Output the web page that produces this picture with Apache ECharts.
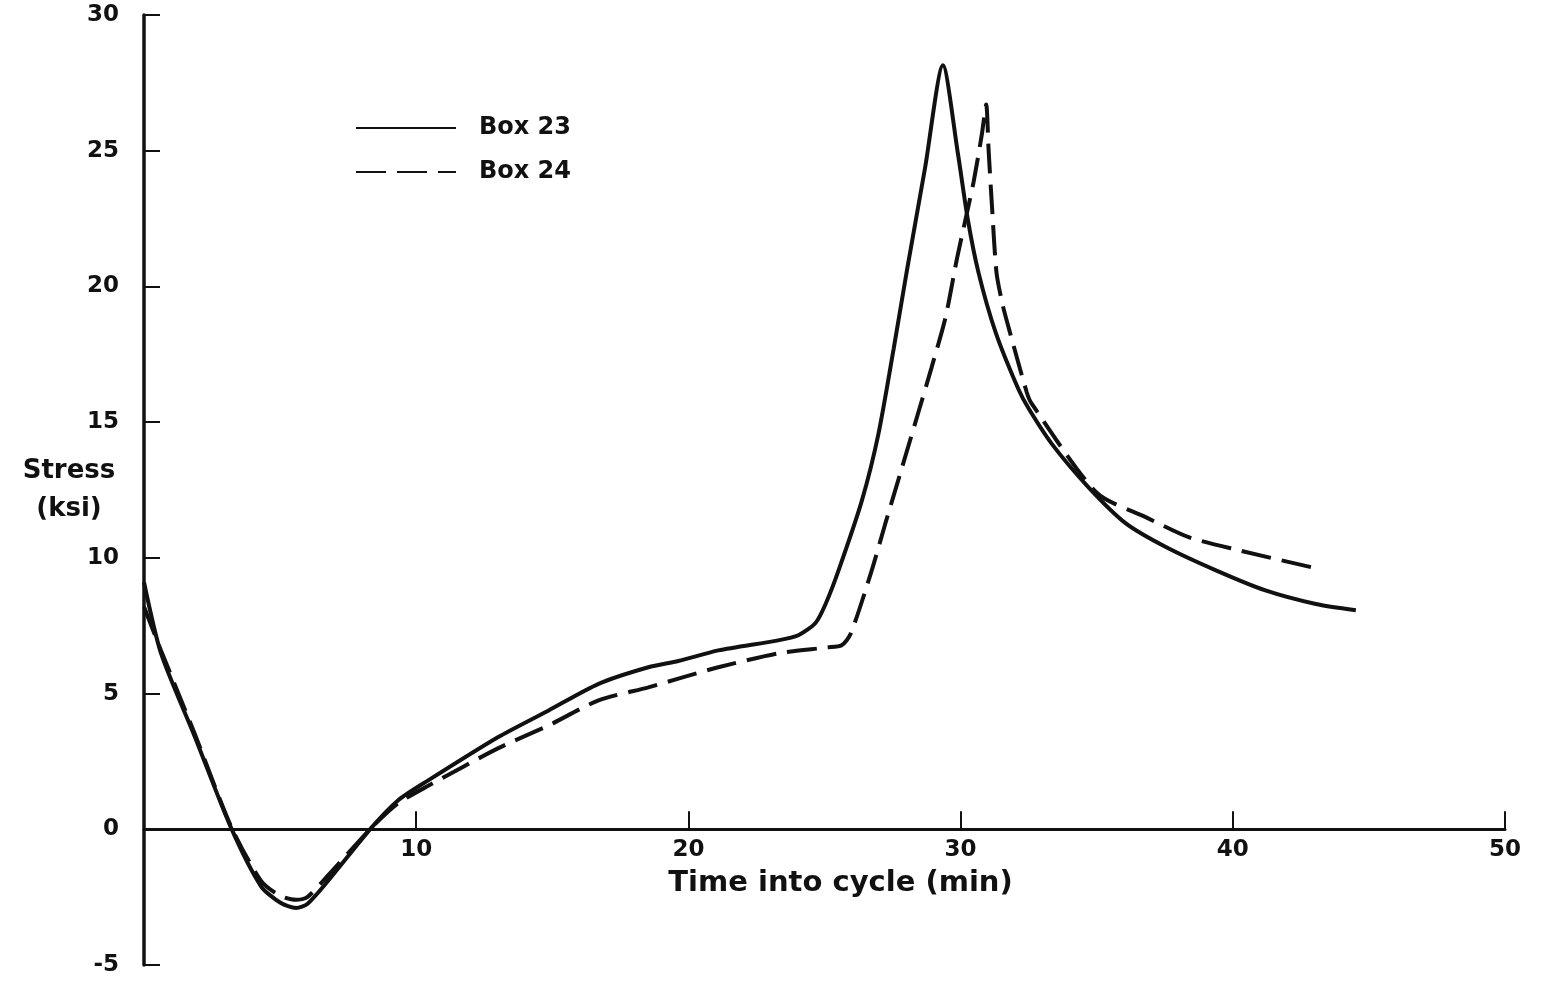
<!DOCTYPE html>
<html>
<head>
<meta charset="utf-8">
<script src="https://cdn.jsdelivr.net/npm/echarts@6/dist/echarts.min.js"></script>
<style>
html,body{margin:0;padding:0;background:#fff;}
#chart{width:1543px;height:985px;}
</style>
</head>
<body>
<div id="chart"></div>
<script>
// Box 23 (solid)
const box23Time = [0, 0.62, 1.87, 3.2, 4.3, 5.0, 5.59, 6.0, 6.76, 8.35, 9.34, 10.44, 13.0, 14.85, 16.7, 18.53, 19.63, 21.1, 23.3, 24.04, 24.67, 25.04, 25.51, 26.37, 26.98, 27.54, 28.03, 28.7, 29.35, 29.9, 30.26, 30.66, 31.29, 32.13, 32.5, 33.35, 34.7, 36.07, 37.54, 39.38, 41.2, 43.05, 44.52];
const box23Stress = [9.1, 6.5, 3.4, 0.05, -2.1, -2.7, -2.9, -2.75, -1.9, 0.05, 1.07, 1.8, 3.39, 4.37, 5.36, 5.97, 6.2, 6.59, 6.96, 7.15, 7.6, 8.3, 9.52, 12.1, 14.56, 17.7, 20.6, 24.4, 28.15, 24.9, 22.5, 20.5, 18.3, 16.2, 15.5, 14.2, 12.6, 11.27, 10.4, 9.54, 8.8, 8.3, 8.07];
// Box 24 (dashed)
const box24Time = [0, 0.62, 1.87, 3.2, 4.3, 5.0, 5.59, 6.0, 6.76, 8.35, 9.34, 10.44, 13.0, 14.85, 16.7, 18.53, 19.63, 21.1, 23.3, 25.1, 25.63, 25.96, 26.73, 27.23, 27.84, 28.46, 28.93, 29.44, 29.87, 30.22, 30.48, 30.78, 30.94, 31.03, 31.15, 31.32, 31.55, 31.76, 32.43, 32.6, 35.0, 36.8, 38.38, 40.22, 42.9];
const box24Stress = [8.2, 6.6, 3.5, 0.1, -1.9, -2.45, -2.6, -2.5, -1.7, 0.05, 0.96, 1.6, 2.98, 3.82, 4.75, 5.23, 5.55, 5.97, 6.48, 6.7, 6.78, 7.2, 9.52, 11.25, 13.3, 15.4, 17.0, 18.83, 21.04, 22.65, 23.86, 25.6, 26.7, 25.0, 23.0, 20.5, 19.3, 18.5, 16.1, 15.7, 12.4, 11.5, 10.76, 10.28, 9.65];
const xTicks = [0, 10, 20, 30, 40, 50];
const yTicks = [-5, 0, 5, 10, 15, 20, 25, 30];

const pairs = (xs, ys) => xs.map((x, i) => [x, ys[i]]);
const FONT = '"DejaVu Sans", sans-serif';
const INK = '#111';

const W = 1543, H = 985;
const G = { left: 144, right: 38, top: 15, bottom: 20 };
const yMin = yTicks[0], yMax = yTicks[yTicks.length - 1];
const plotH = H - G.top - G.bottom;
const zeroOffset = -((0 - yMin) / (yMax - yMin)) * plotH;

const chart = echarts.init(document.getElementById('chart'));
chart.setOption({
  animation: false,
  backgroundColor: '#fff',
  grid: Object.assign({ containLabel: false, outerBoundsMode: 'none' }, G),
  legend: {
    orient: 'vertical',
    left: 355, top: 116, padding: 0,
    itemWidth: 100, itemHeight: 20, itemGap: 20,
    itemStyle: { opacity: 0 },
    textStyle: { fontFamily: FONT, fontSize: 24, fontWeight: 'bold', color: INK, lineHeight: 20, padding: [0, 0, 0, 18] },
    data: ['Box 23', 'Box 24']
  },
  xAxis: {
    type: 'value',
    min: xTicks[0], max: xTicks[xTicks.length - 1], interval: 10,
    offset: zeroOffset,
    name: 'Time into cycle (min)',
    nameLocation: 'middle', nameGap: 40,
    nameTextStyle: { fontFamily: FONT, fontSize: 29, fontWeight: 'bold', color: INK, padding: [0, 0, 0, 32] },
    axisLine: { onZero: false, lineStyle: { color: INK, width: 3 } },
    axisTick: { inside: true, length: 18, lineStyle: { color: INK, width: 2 } },
    axisLabel: {
      fontFamily: FONT, fontSize: 23, fontWeight: 'bold', color: INK, margin: 9,
      formatter: v => (v === 0 ? '' : String(v))
    },
    splitLine: { show: false }
  },
  yAxis: {
    type: 'value',
    min: yMin, max: yMax, interval: 5,
    name: 'Stress\n(ksi)',
    nameLocation: 'middle', nameRotate: 0, nameGap: 75,
    nameMoveOverlap: false,
    nameTextStyle: { fontFamily: FONT, fontSize: 26, fontWeight: 'bold', color: INK, align: 'center', lineHeight: 38, padding: [0, 0, 44, 0] },
    axisLine: { onZero: false, lineStyle: { color: INK, width: 3.5 } },
    axisTick: { inside: true, length: 16, lineStyle: { color: INK, width: 2 } },
    axisLabel: { fontFamily: FONT, fontSize: 23, fontWeight: 'bold', color: INK, margin: 25 },
    splitLine: { show: false }
  },
  series: [
    {
      name: 'Box 23', type: 'line', symbol: 'none', smooth: 0.25,
      data: pairs(box23Time, box23Stress),
      lineStyle: { color: INK, width: 4, type: 'solid' },
      itemStyle: { color: INK }
    },
    {
      name: 'Box 24', type: 'line', symbol: 'none', smooth: 0.25,
      data: pairs(box24Time, box24Stress),
      lineStyle: { color: INK, width: 4, type: [30, 11] },
      itemStyle: { color: INK }
    }
  ]
});
</script>
</body>
</html>
